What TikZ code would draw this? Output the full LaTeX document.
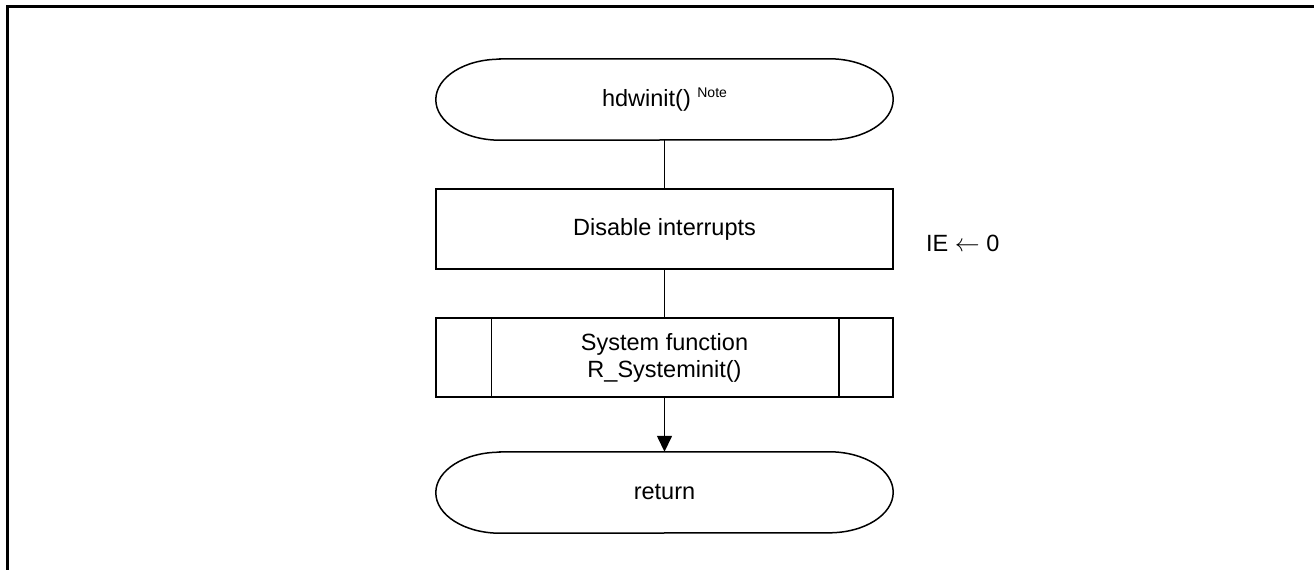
\documentclass[tikz,border=0pt]{standalone}
\usepackage{fontspec}
\setmainfont{Liberation Sans}
\usetikzlibrary{arrows.meta}
\tikzset{
  flowline/.style={line width=1.5pt, line cap=butt},
  framebox/.style={line width=3pt},
  textfont/.style={font=\fontsize{23.5}{27}\selectfont},
  terminal/.style={textfont, minimum width=457pt, minimum height=81pt, inner sep=0pt},
  process/.style={textfont, draw, line width=1.5pt, minimum width=457pt,
    minimum height=80pt, inner sep=0pt},
  subproc/.style={textfont, draw, line width=1.5pt, minimum width=457pt,
    minimum height=79pt, inner sep=0pt, align=center},
  arrowtip/.style={-{Triangle[length=16pt,width=15pt]}}
}
% terminal outline: straight top and bottom, elliptic ends
\newcommand{\stadium}[1]{%
  \draw[flowline] ([xshift=64pt]#1.north west) -- ([xshift=-64pt]#1.north east)
    arc[start angle=90, end angle=-90, x radius=64pt, y radius=40.5pt]
    -- ([xshift=64pt]#1.south west)
    arc[start angle=270, end angle=90, x radius=64pt, y radius=40.5pt] -- cycle;}
\begin{document}
\begin{tikzpicture}[x=1pt,y=1pt]
  \useasboundingbox (0,0) rectangle (1314,570);
  % open frame: left and top edges
  \draw[framebox] (7,0) -- (7,563) -- (1314,563);

  % flowchart nodes
  \node[terminal] (start) at (664.5,470.5)
    {hdwinit() {\fontsize{14}{14}\selectfont\raisebox{8.5pt}{Note}}};
  \stadium{start}
  \node[process] (disable) at (664.5,341) {Disable interrupts};
  \node[textfont, anchor=west, inner sep=0pt] (ie) at (926,327) {IE $\leftarrow$ 0};
  \node[subproc] (sysinit) at (664.5,212.5) {System function\\R\_Systeminit()};
  \draw[flowline] ([xshift=56pt]sysinit.north west) -- ([xshift=56pt]sysinit.south west);
  \draw[flowline] ([xshift=-55pt]sysinit.north east) -- ([xshift=-55pt]sysinit.south east);
  \node[terminal] (ret) at (664.5,77.5) {return};
  \stadium{ret}

  % connectors
  \draw[flowline] (start.south) -- (disable.north);
  \draw[flowline] (disable.south) -- (sysinit.north);
  \draw[flowline, arrowtip] (sysinit.south) -- (ret.north);
\end{tikzpicture}
\end{document}
